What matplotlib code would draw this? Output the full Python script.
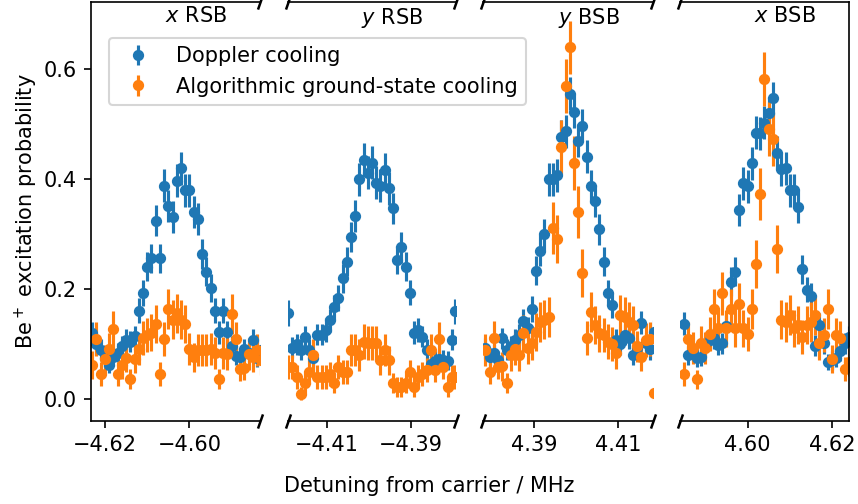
import matplotlib
matplotlib.use("Agg")
import matplotlib.pyplot as plt
from matplotlib.ticker import FuncFormatter

# ---------------- data ----------------
titles = ["$x$ RSB", "$y$ RSB", "$y$ BSB", "$x$ BSB"]
series_labels = ["Doppler cooling", "Algorithmic ground-state cooling"]
xlabel = "Detuning from carrier / MHz"
ylabel = "Be$^+$ excitation probability"

x1 = [-4.623, -4.622, -4.621, -4.620, -4.619, -4.618, -4.617, -4.616, -4.615, -4.614,
      -4.613, -4.612, -4.611, -4.610, -4.609, -4.608, -4.607, -4.606, -4.605, -4.604,
      -4.603, -4.602, -4.601, -4.600, -4.599, -4.598, -4.597, -4.596, -4.595, -4.594,
      -4.593, -4.592, -4.591, -4.590, -4.589, -4.588, -4.587, -4.586, -4.585, -4.584, -4.583]
doppler1 = [0.120, 0.100, 0.090, 0.075, 0.062, 0.077, 0.085, 0.096, 0.108, 0.105,
            0.115, 0.161, 0.193, 0.241, 0.256, 0.325, 0.256, 0.388, 0.351, 0.332,
            0.397, 0.420, 0.380, 0.380, 0.341, 0.328, 0.264, 0.232, 0.202, 0.161,
            0.122, 0.161, 0.122, 0.096, 0.079, 0.077, 0.091, 0.085, 0.108, 0.075, 0.090]
doppler1_err = [0.021, 0.019, 0.019, 0.017, 0.015, 0.017, 0.017, 0.019, 0.019, 0.019,
                0.019, 0.023, 0.023, 0.026, 0.026, 0.029, 0.026, 0.030, 0.029, 0.029,
                0.030, 0.030, 0.030, 0.030, 0.029, 0.029, 0.028, 0.026, 0.026, 0.023,
                0.021, 0.023, 0.021, 0.019, 0.017, 0.017, 0.019, 0.017, 0.019, 0.017, 0.019]
algo1 = [0.062, 0.110, 0.046, 0.073, 0.091, 0.127, 0.046, 0.062, 0.075, 0.037,
         0.073, 0.091, 0.111, 0.117, 0.121, 0.137, 0.046, 0.110, 0.164, 0.145,
         0.156, 0.145, 0.137, 0.091, 0.076, 0.090, 0.090, 0.090, 0.091, 0.084,
         0.037, 0.084, 0.083, 0.155, 0.110, 0.055, 0.057, 0.083, 0.076, 0.090, 0.071]
algo1_err = [0.026, 0.031, 0.022, 0.026, 0.029, 0.034, 0.022, 0.026, 0.026, 0.018,
             0.026, 0.029, 0.031, 0.031, 0.034, 0.034, 0.022, 0.031, 0.036, 0.036,
             0.036, 0.036, 0.034, 0.029, 0.026, 0.029, 0.029, 0.029, 0.029, 0.029,
             0.018, 0.029, 0.029, 0.036, 0.031, 0.022, 0.022, 0.029, 0.026, 0.029, 0.026]

x2 = [-4.4192, -4.4182, -4.4172, -4.4162, -4.4152, -4.4142, -4.4132, -4.4122, -4.4112, -4.4102,
      -4.4092, -4.4082, -4.4072, -4.4062, -4.4052, -4.4042, -4.4032, -4.4022, -4.4012, -4.4002,
      -4.3992, -4.3982, -4.3972, -4.3962, -4.3952, -4.3942, -4.3932, -4.3922, -4.3912, -4.3902,
      -4.3892, -4.3882, -4.3872, -4.3862, -4.3852, -4.3842, -4.3832, -4.3822, -4.3812, -4.3802, -4.3794]
doppler2 = [0.157, 0.094, 0.100, 0.090, 0.114, 0.090, 0.075, 0.117, 0.117, 0.126,
            0.144, 0.167, 0.184, 0.220, 0.250, 0.295, 0.333, 0.400, 0.436, 0.412,
            0.430, 0.394, 0.388, 0.417, 0.384, 0.347, 0.253, 0.276, 0.241, 0.194,
            0.121, 0.126, 0.114, 0.090, 0.064, 0.070, 0.073, 0.072, 0.070, 0.108, 0.160]
doppler2_err = [0.023, 0.019, 0.019, 0.019, 0.019, 0.019, 0.017, 0.019, 0.019, 0.021,
                0.021, 0.023, 0.023, 0.026, 0.026, 0.028, 0.029, 0.030, 0.030, 0.030,
                0.030, 0.030, 0.030, 0.030, 0.030, 0.029, 0.026, 0.028, 0.026, 0.023,
                0.021, 0.021, 0.019, 0.019, 0.015, 0.017, 0.017, 0.017, 0.017, 0.019, 0.023]
algo2 = [0.058, 0.058, 0.040, 0.010, 0.029, 0.050, 0.080, 0.040, 0.040, 0.040,
         0.046, 0.029, 0.059, 0.050, 0.050, 0.090, 0.090, 0.080, 0.105, 0.102,
         0.102, 0.103, 0.071, 0.090, 0.071, 0.029, 0.023, 0.023, 0.029, 0.050,
         0.023, 0.040, 0.046, 0.053, 0.090, 0.053, 0.109, 0.059, 0.023, 0.040, 0.040]
algo2_err = [0.022, 0.022, 0.022, 0.012, 0.018, 0.022, 0.029, 0.022, 0.022, 0.022,
             0.022, 0.018, 0.022, 0.022, 0.022, 0.029, 0.029, 0.029, 0.031, 0.031,
             0.031, 0.031, 0.026, 0.029, 0.026, 0.018, 0.018, 0.018, 0.018, 0.022,
             0.018, 0.022, 0.022, 0.022, 0.029, 0.022, 0.031, 0.022, 0.018, 0.022, 0.022]

x3 = [4.3785, 4.3795, 4.3805, 4.3815, 4.3825, 4.3835, 4.3845, 4.3855, 4.3865, 4.3875,
      4.3885, 4.3895, 4.3905, 4.3915, 4.3925, 4.3935, 4.3945, 4.3955, 4.3965, 4.3975,
      4.3985, 4.3995, 4.4005, 4.4015, 4.4025, 4.4035, 4.4045, 4.4055, 4.4065, 4.4075,
      4.4085, 4.4095, 4.4105, 4.4115, 4.4125, 4.4135, 4.4145, 4.4155, 4.4165, 4.4175, 4.4185]
doppler3 = [0.093, 0.077, 0.084, 0.071, 0.111, 0.090, 0.096, 0.108, 0.117, 0.143,
            0.129, 0.164, 0.234, 0.270, 0.300, 0.400, 0.400, 0.407, 0.477, 0.487,
            0.556, 0.523, 0.470, 0.497, 0.441, 0.387, 0.361, 0.309, 0.250, 0.194,
            0.171, 0.108, 0.100, 0.117, 0.111, 0.080, 0.093, 0.139, 0.102, 0.091, 0.123]
doppler3_err = [0.019, 0.017, 0.017, 0.017, 0.019, 0.019, 0.019, 0.019, 0.019, 0.021,
                0.021, 0.023, 0.026, 0.028, 0.028, 0.030, 0.030, 0.030, 0.030, 0.030,
                0.030, 0.030, 0.030, 0.030, 0.030, 0.030, 0.029, 0.028, 0.026, 0.023,
                0.023, 0.019, 0.019, 0.019, 0.019, 0.017, 0.019, 0.021, 0.019, 0.019, 0.021]
algo3 = [0.090, 0.050, 0.111, 0.059, 0.060, 0.030, 0.080, 0.091, 0.080, 0.120,
         0.093, 0.102, 0.122, 0.141, 0.145, 0.150, 0.311, 0.291, 0.459, 0.570,
         0.640, 0.429, 0.340, 0.230, 0.111, 0.159, 0.135, 0.120, 0.117, 0.105,
         0.100, 0.084, 0.153, 0.150, 0.141, 0.135, 0.096, 0.077, 0.108, 0.110, 0.011]
algo3_err = [0.029, 0.022, 0.031, 0.022, 0.026, 0.018, 0.029, 0.029, 0.029, 0.034,
             0.029, 0.031, 0.034, 0.036, 0.036, 0.036, 0.047, 0.044, 0.049, 0.049,
             0.048, 0.049, 0.047, 0.044, 0.031, 0.036, 0.034, 0.034, 0.031, 0.031,
             0.031, 0.029, 0.036, 0.036, 0.036, 0.034, 0.029, 0.026, 0.031, 0.031, 0.012]

x4 = [4.585, 4.586, 4.587, 4.588, 4.589, 4.590, 4.591, 4.592, 4.593, 4.594,
      4.595, 4.596, 4.597, 4.598, 4.599, 4.600, 4.601, 4.602, 4.603, 4.604,
      4.605, 4.606, 4.607, 4.608, 4.609, 4.610, 4.611, 4.612, 4.613, 4.614,
      4.615, 4.616, 4.617, 4.618, 4.619, 4.620, 4.621, 4.622, 4.623, 4.624]
doppler4 = [0.137, 0.080, 0.087, 0.075, 0.077, 0.096, 0.108, 0.111, 0.099, 0.102,
            0.133, 0.214, 0.232, 0.344, 0.393, 0.387, 0.429, 0.485, 0.484, 0.503,
            0.520, 0.547, 0.448, 0.418, 0.420, 0.380, 0.380, 0.349, 0.236, 0.199,
            0.188, 0.097, 0.135, 0.102, 0.068, 0.071, 0.075, 0.087, 0.102, 0.114]
doppler4_err = [0.021, 0.017, 0.017, 0.017, 0.017, 0.019, 0.019, 0.019, 0.019, 0.019,
                0.021, 0.026, 0.026, 0.029, 0.030, 0.030, 0.030, 0.030, 0.030, 0.030,
                0.030, 0.030, 0.030, 0.030, 0.030, 0.030, 0.030, 0.029, 0.026, 0.023,
                0.023, 0.019, 0.021, 0.019, 0.015, 0.017, 0.017, 0.017, 0.019, 0.019]
algo4 = [0.046, 0.109, 0.093, 0.036, 0.102, 0.093, 0.119, 0.164, 0.129, 0.193,
         0.129, 0.164, 0.129, 0.173, 0.129, 0.119, 0.164, 0.246, 0.373, 0.582,
         0.491, 0.473, 0.273, 0.145, 0.141, 0.153, 0.129, 0.135, 0.114, 0.135,
         0.141, 0.153, 0.102, 0.117, 0.164, 0.073, 0.117, 0.111, 0.055, 0.068]
algo4_err = [0.022, 0.031, 0.029, 0.018, 0.031, 0.029, 0.031, 0.036, 0.034, 0.039,
             0.034, 0.036, 0.034, 0.039, 0.034, 0.031, 0.036, 0.044, 0.047, 0.049,
             0.049, 0.049, 0.044, 0.036, 0.036, 0.036, 0.034, 0.034, 0.031, 0.034,
             0.036, 0.036, 0.031, 0.031, 0.036, 0.026, 0.031, 0.031, 0.022, 0.026]

xlims = [(-4.6233, -4.5833), (-4.4193, -4.3792), (4.3780, 4.4183), (4.5840, 4.6241)]
xticks = [[-4.62, -4.60], [-4.41, -4.39], [4.39, 4.41], [4.60, 4.62]]
yticks = [0.0, 0.2, 0.4, 0.6]
ylim = (-0.039, 0.723)

panels = [
    (x1, doppler1, doppler1_err, algo1, algo1_err),
    (x2, doppler2, doppler2_err, algo2, algo2_err),
    (x3, doppler3, doppler3_err, algo3, algo3_err),
    (x4, doppler4, doppler4_err, algo4, algo4_err),
]

# ---------------- figure ----------------
DPI = 150
W, H = 858, 504
fig = plt.figure(figsize=(W / DPI, H / DPI), dpi=DPI)

lefts_px = [91.0, 287.7, 483.3, 680.0]
widths_px = [169.0, 168.3, 170.0, 169.3]
top_px, bot_px = 1.7, 420.7

fmt = FuncFormatter(lambda v, p: f"{v:.2f}".replace("-", "\u2212"))
d = 0.35
brk = dict(marker=[(-d, -1), (d, 1)], markersize=6.8, linestyle="none",
           color="k", mec="k", mew=1.2, clip_on=False)

axes = []
handles = None
for k, (x, b, be, o, oe) in enumerate(panels):
    ax = fig.add_axes([lefts_px[k] / W, 1 - bot_px / H,
                       widths_px[k] / W, (bot_px - top_px) / H])
    hb = ax.errorbar(x, b, yerr=be, fmt="o", ms=4.4, color="C0", label=series_labels[0])
    ho = ax.errorbar(x, o, yerr=oe, fmt="o", ms=4.4, color="C1", label=series_labels[1])
    if handles is None:
        handles = [hb, ho]
    ax.set_xlim(*xlims[k])
    ax.set_ylim(*ylim)
    ax.set_xticks(xticks[k])
    ax.xaxis.set_major_formatter(fmt)
    ax.text(0.62, 0.99, titles[k], transform=ax.transAxes, ha="center", va="top", fontsize=10)
    if k == 0:
        ax.set_yticks(yticks)
        ax.spines["right"].set_visible(False)
        ax.plot([1, 1], [0, 1], transform=ax.transAxes, **brk)
    elif k == 3:
        ax.spines["left"].set_visible(False)
        ax.tick_params(left=False, labelleft=False)
        ax.plot([0, 0], [0, 1], transform=ax.transAxes, **brk)
    else:
        ax.spines["left"].set_visible(False)
        ax.spines["right"].set_visible(False)
        ax.tick_params(left=False, labelleft=False)
        ax.plot([0, 0, 1, 1], [0, 1, 0, 1], transform=ax.transAxes, **brk)
    axes.append(ax)

axes[0].set_ylabel(ylabel, fontsize=10, labelpad=1.5)
fig.text(0.5, 1 - 486 / H, xlabel, ha="center", va="center", fontsize=10)

fig.legend(handles, series_labels, loc="upper left",
           bbox_to_anchor=(109 / W, 1 - 38 / H), borderaxespad=0, fontsize=10)

fig.savefig("out.png", dpi=DPI)
